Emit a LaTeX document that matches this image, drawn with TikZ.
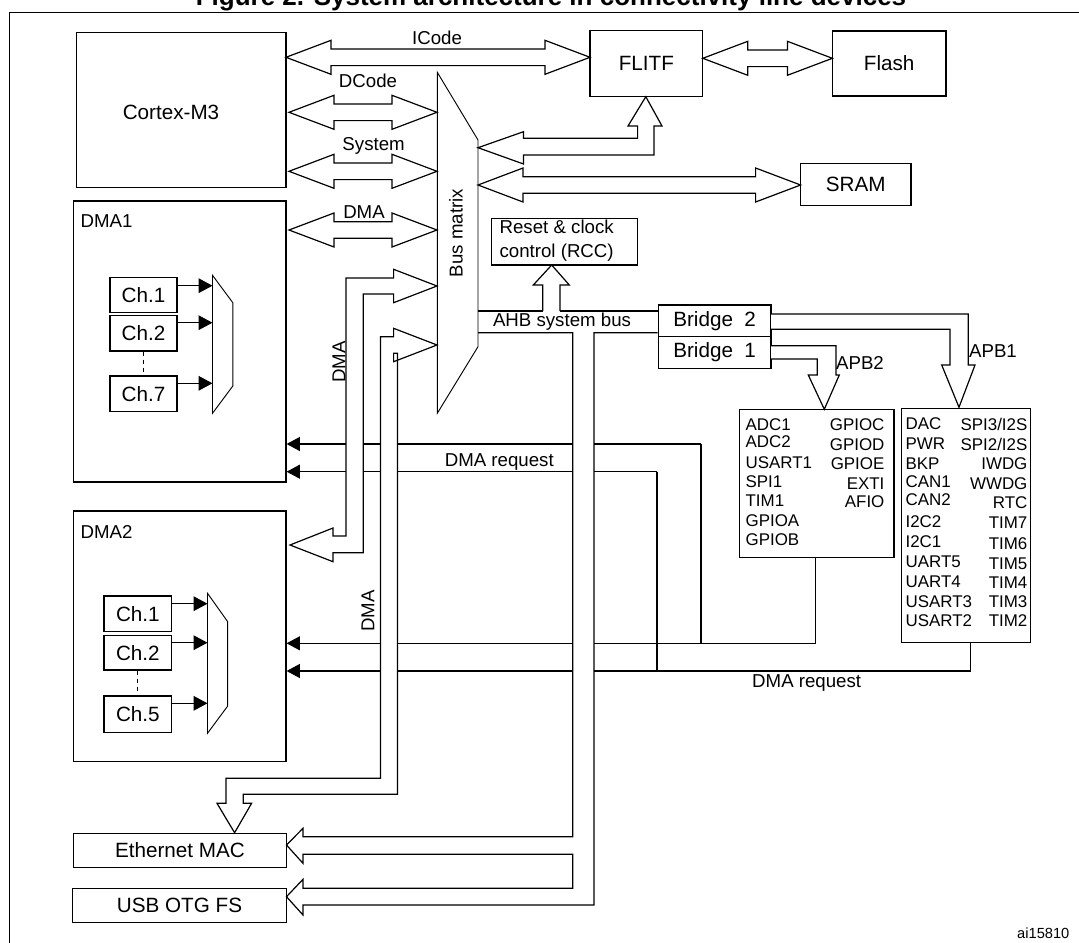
\documentclass[tikz,border=0pt]{standalone}
\usepackage{fontspec}
\setmainfont{Liberation Sans}
\usetikzlibrary{arrows.meta}
\newcommand\bx[6]{\node[box,minimum width={(#4-#2)*0.75pt},minimum height={(#5-#3)*0.75pt}] (#1) at ({(#2+#4)/2},{(#3+#5)/2}) {#6};}
\newcommand\hdbl[3]{\draw[fill=white] (#1,#3) -- ({#1+45},{#3-17}) -- ({#1+45},{#3-8.3}) -- ({#2-45},{#3-8.3}) -- ({#2-45},{#3-17}) -- (#2,#3) -- ({#2-45},{#3+17}) -- ({#2-45},{#3+8.3}) -- ({#1+45},{#3+8.3}) -- ({#1+45},{#3+17}) -- cycle;}
\begin{document}
\begin{tikzpicture}[x=0.75pt,y=-0.75pt,line width=0.9pt,
  box/.style={draw,inner sep=0pt,font=\fontsize{15.5}{18}\selectfont,align=center},
  lbl/.style={font=\fontsize{14}{16}\selectfont,inner sep=0pt},
  lst/.style={font=\fontsize{12.7}{14}\selectfont,inner sep=0pt},
  req/.style={-{Triangle[length=10pt,width=10.5pt]}},
  chr/.style={-{Triangle[length=10.5pt,width=11pt]}},
  thin/.style={line width=0.7pt}]
\useasboundingbox (0,0) rectangle (1079,943);
\fill[white] (0,0) rectangle (1079,943);
% title and frame
\node[anchor=base,inner sep=0pt,font=\fontsize{19.5}{22}\selectfont\bfseries] (title) at (551,5) {Figure 2. System architecture in connectivity line devices};
\draw (9.3,960) -- (9.3,12.3) -- (1100,12.3);
\node[anchor=east,inner sep=0pt,font=\fontsize{11}{13}\selectfont] (ai) at (1070,933) {ai15810};
% boxes
\bx{cortex}{76.4}{32.7}{286}{187.3}{}
\node[font=\fontsize{15.5}{18}\selectfont] (ctxt) at (171,112) {Cortex-M3};
\bx{dma1}{73.5}{201}{286}{482}{}
\node[lbl,anchor=west] (dma1t) at (80,221) {DMA1};
\bx{dma2}{73.5}{511}{286}{761.3}{}
\node[lbl,anchor=west] (dma2t) at (80,532) {DMA2};
\bx{flitf}{590}{30.7}{702.8}{96.7}{FLITF}
\bx{flash}{832.4}{31}{946}{96}{Flash}
\bx{sram}{800.6}{163.3}{911}{205.7}{SRAM}
\bx{rcc}{491.5}{218.3}{637.5}{265}{}
\node[anchor=west,align=left,font=\fontsize{14}{18}\selectfont,inner sep=0pt] (rcct) at (499,240.5) {Reset \& clock\\control (RCC)};
\bx{br2}{658.3}{305}{771}{336.7}{Bridge\ \ 2}
\bx{br1}{658.3}{336.7}{771}{368.3}{Bridge\ \ 1}
\bx{apb2}{739.3}{409.3}{894}{557.3}{}
\bx{apb1}{901.7}{408.3}{1030.7}{642.3}{}
\bx{eth}{73.5}{833.3}{286.5}{867.3}{Ethernet MAC}
\bx{usb}{72.5}{888.3}{286.5}{922.3}{USB OTG FS}
% channel boxes DMA1
\bx{a1}{110}{277.3}{177}{312.3}{Ch.1}
\bx{a2}{110}{315.7}{177}{351}{Ch.2}
\bx{a7}{110}{376}{177}{411.7}{Ch.7}
\draw[thin,dash pattern=on 3pt off 3pt] (a2.south) -- (a7.north);
\draw[thin] (212.5,275.3) -- (232.8,302.7) -- (232.8,386) -- (212.5,413.3) -- cycle;
\draw[chr] (177,285.7) -- (212.5,285.7);
\draw[chr] (177,322.7) -- (212.5,322.7);
\draw[chr] (177,383.3) -- (212.5,383.3);
% channel boxes DMA2
\bx{b1}{104}{596}{171.7}{631.7}{Ch.1}
\bx{b2}{104}{635.3}{171.7}{670}{Ch.2}
\bx{b5}{104}{696}{171.7}{732.3}{Ch.5}
\draw[thin,dash pattern=on 3pt off 3pt] (b2.south) -- (b5.north);
\draw[thin] (207.5,593.3) -- (227.7,621.7) -- (227.7,706) -- (207.5,733.3) -- cycle;
\draw[chr] (171.7,603.7) -- (207.5,603.7);
\draw[chr] (171.7,642.7) -- (207.5,642.7);
\draw[chr] (171.7,703.3) -- (207.5,703.3);
% APB lists
\foreach \t/\y in {ADC1/425,ADC2/441.7,USART1/462.7,SPI1/481.7,TIM1/501,GPIOA/521,GPIOB/540}
  \node[lst,anchor=west] at (745,\y) {\t};
\foreach \t/\y in {GPIOC/425,GPIOD/445,GPIOE/463.3,EXTI/483.3,AFIO/501.7}
  \node[lst,anchor=east] at (885,\y) {\t};
\foreach \t/\y in {DAC/424,PWR/444,BKP/463.3,CAN1/481.7,CAN2/500,I2C2/521.7,I2C1/541.7,UART5/561.7,UART4/581.7,USART3/601.7,USART2/621}
  \node[lst,anchor=west] at (905,\y) {\t};
\foreach \t/\y in {{SPI3/I2S}/424,{SPI2/I2S}/444,IWDG/463.3,WWDG/483.3,RTC/502.7,TIM7/522.7,TIM6/543.3,TIM5/563.3,TIM4/582.7,TIM3/601.7,TIM2/621}
  \node[lst,anchor=east] at (1028,\y) {\t};
% DMA request lines
\draw[req] (701,444) -- (dma1.east |- 0,444);
\draw (701,444) -- (701,643.3);
\draw[req] (apb2.south -| 815.3,0) -- (815.3,643.3) -- (dma2.east |- 0,643.3);
\draw[req] (657,471.7) -- (dma1.east |- 0,471.7);
\draw (657,471.7) -- (657,671);
\draw[req] (apb1.south -| 970.7,0) -- (970.7,671) -- (dma2.east |- 0,671);
\node[lbl] (rq1) at (499.3,462.3) {DMA request};
\node[lbl] (rq2) at (806.7,682.7) {DMA request};
% bus matrix
\draw[thin,fill=white] (437.3,72.3) -- (478,140) -- (478,346.7) -- (437.3,413.3) -- cycle;
\node[lbl,rotate=90] (bm) at (456,233) {Bus matrix};
% double arrows
\hdbl{286}{590}{57.3}
\hdbl{702.8}{832.4}{58.3}
\hdbl{289}{437}{112.3}
\hdbl{289}{437}{171.3}
\hdbl{289}{437}{230}
\hdbl{478}{800.6}{185}
\node[lbl] (ic) at (437,38.3) {ICode};
\node[lbl] (dc) at (368,81) {DCode};
\node[lbl] (sy) at (373.6,145.7) {System};
\node[lbl] (dm) at (364,211.7) {DMA};
% bus matrix to FLITF
\draw[fill=white] (478,147.7) -- (523.5,131.7) -- (523.5,138.3) -- (637.6,138.3) -- (637.6,126) -- (628,126) -- (645.8,96.7) -- (662,126) -- (654,126) -- (654,155) -- (523.5,155) -- (523.5,164) -- cycle;
% DMA2 bus arrow
\draw[fill=white] (437,286) -- (393.6,269.3) -- (393.6,278) -- (346,278) -- (346,536) -- (333,536) -- (333,528) -- (290,545) -- (333,561.7) -- (333,552.7) -- (363.3,552.7) -- (363.3,294) -- (393.6,294) -- (393.6,302.7) -- cycle;
\node[lbl,rotate=90] (dmv1) at (339,362) {DMA};
% Ethernet DMA arrow
\draw[fill=white] (437,345) -- (393.6,328.3) -- (393.6,336.7) -- (380.5,336.7) -- (380.5,778.3) -- (226,778.3) -- (226,803.3) -- (217,803.3) -- (234.6,832.7) -- (251.6,803.3) -- (243.3,803.3) -- (243.3,794.3) -- (397.5,794.3) -- (397.5,353.3) -- (393.6,353.3) -- (393.6,361.7) -- cycle;
\node[lbl,rotate=90] (dmv2) at (368,611) {DMA};
% AHB bus
\fill[white] (572.7,332.7) rectangle (594,905);
\draw (478,311) -- (542.7,311);
\draw (560,311) -- (br2.west |- 0,311);
\draw[fill=white] (542.7,311) -- (542.7,285) -- (533.3,285) -- (551.7,265) -- (569.3,285) -- (560,285) -- (560,311);
\draw (478,332.7) -- (572.7,332.7) -- (572.7,836.7) -- (303,836.7) -- (303,828.3) -- (286.5,845) -- (303,863.3) -- (303,854.3) -- (572.7,854.3) -- (572.7,888.3) -- (303,888.3) -- (303,879.3) -- (286.5,896.7) -- (303,915) -- (303,905) -- (594,905) -- (594,332.7) -- (br2.west |- 0,332.7);
\node[lbl] (ahb) at (562,321.7) {AHB system bus};
% APB arrows
\draw[fill=white] (771,314) -- (968.3,314) -- (968.3,365) -- (975,365) -- (959,407.3) -- (941.7,365) -- (950,365) -- (950,329.3) -- (771,329.3);
\draw[fill=white] (771,345.7) -- (836,345.7) -- (836,375) -- (839.3,375) -- (824.3,409.3) -- (808.3,375) -- (817.3,375) -- (817.3,359) -- (771,359);
\node[lbl] (apb1l) at (993,350.7) {APB1};
\node[lbl] (apb2l) at (860,363.3) {APB2};
\end{tikzpicture}
\end{document}
